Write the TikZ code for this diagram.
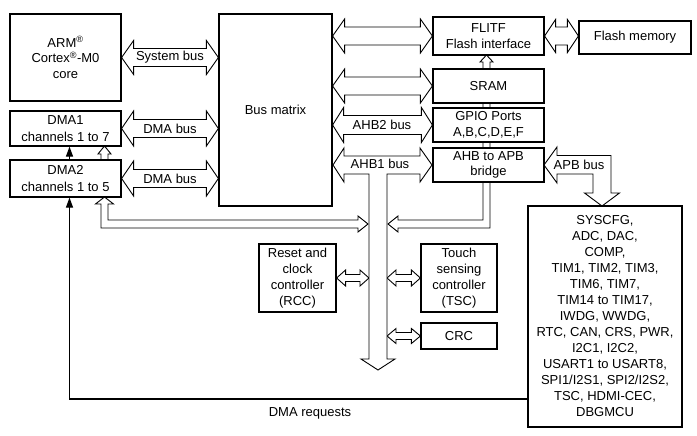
\documentclass[tikz,border=0pt]{standalone}
\usepackage{fontspec}
\setmainfont{Liberation Sans}
\usetikzlibrary{arrows.meta,calc}
\pgfdeclarelayer{bg}
\pgfsetlayers{bg,main}
\newcommand\hbusarrow[5]{\draw[bus] (#1) -- ++(#5,-#4) -- ++(0,#4-#3) -- ($(#2)+(-#5,-#3)$) -- ++(0,#3-#4) -- (#2) -- ++(-#5,#4) -- ++(0,#3-#4) -- ($(#1)+(#5,#3)$) -- ++(0,#4-#3) -- cycle;}
\begin{document}
\begin{tikzpicture}[x=1pt,y=-1pt,
  box/.style={draw,line width=1.2pt,fill=white,align=center,inner sep=0pt,font=\fontsize{13pt}{15.7pt}\selectfont},
  bus/.style={draw,line width=0.9pt,fill=white,line join=miter},
  lbl/.style={inner sep=0pt,font=\fontsize{13pt}{15.7pt}\selectfont},
  req/.style={line width=1.2pt,-{Triangle[length=10pt,width=7pt]}}]
\useasboundingbox (0,0) rectangle (697,436);

% boxes
\node[box,minimum width=111pt,minimum height=87pt] (arm) at (65.5,57.5) {ARM\textsuperscript{®}\\Cortex\textsuperscript{®}-M0\\core};
\node[box,minimum width=111pt,minimum height=35pt,font=\fontsize{13pt}{16.5pt}\selectfont] (dma1) at (65.5,128.5) {DMA1\\channels 1 to 7};
\node[box,minimum width=111pt,minimum height=37pt,font=\fontsize{13pt}{16.5pt}\selectfont] (dma2) at (65.5,178.5) {DMA2\\channels 1 to 5};
\node[box,minimum width=113pt,minimum height=192pt] (bm) at (275.5,110) {Bus matrix};
\node[box,minimum width=111pt,minimum height=38pt] (flitf) at (488.5,36) {FLITF\\Flash interface};
\node[box,minimum width=112pt,minimum height=33pt] (flash) at (635,37.5) {Flash memory};
\node[box,minimum width=111pt,minimum height=34pt] (sram) at (488.5,86) {SRAM};
\node[box,minimum width=111pt,minimum height=34pt] (gpio) at (488.5,125) {GPIO Ports\\A,B,C,D,E,F};
\node[box,minimum width=111pt,minimum height=34pt] (bridge) at (488.5,165) {AHB to APB\\bridge};
\node[box,minimum width=154pt,minimum height=221pt,font=\fontsize{13pt}{16pt}\selectfont] (per) at (605,316.5) {SYSCFG,\\ADC, DAC,\\COMP,\\TIM1, TIM2, TIM3,\\TIM6, TIM7,\\TIM14 to TIM17,\\IWDG, WWDG,\\RTC, CAN, CRS, PWR,\\I2C1, I2C2,\\USART1 to USART8,\\SPI1/I2S1, SPI2/I2S2,\\TSC, HDMI-CEC,\\DBGMCU};
\node[box,minimum width=77pt,minimum height=68pt,font=\fontsize{13pt}{16pt}\selectfont] (rcc) at (297.5,278) {Reset and\\clock\\controller\\(RCC)};
\node[box,minimum width=76pt,minimum height=68pt,font=\fontsize{13pt}{16pt}\selectfont] (tsc) at (459,278) {Touch\\sensing\\controller\\(TSC)};
\node[box,minimum width=76pt,minimum height=26pt] (crc) at (459,336) {CRC};
\node[lbl] (dmareq) at (310,413) {DMA requests};

% helper coordinates
\coordinate (sysR) at (arm.east -| bm.west);
\coordinate (d1R) at (dma1.east -| bm.west);
\coordinate (d2R) at (dma2.east -| bm.west);
\coordinate (flL) at (flitf.west -| bm.east);
\coordinate (srL) at (sram.west -| bm.east);
\coordinate (gpL) at (gpio.west -| bm.east);
\coordinate (fmR) at (flitf.east -| flash.west);
\coordinate (shL) at (369,0);
\coordinate (shR) at (387,0);
\coordinate (rccR) at (rcc.east -| shL);
\coordinate (tscL) at (tsc.west -| shR);
\coordinate (crcL) at (crc.west -| shR);

\begin{pgfonlayer}{bg}
% horizontal double buses
\hbusarrow{arm.east}{sysR}{9}{17}{12}
\hbusarrow{dma1.east}{d1R}{9}{17.5}{12}
\hbusarrow{dma2.east}{d2R}{9}{17.5}{12}
\hbusarrow{flL}{flitf.west}{9}{17}{12}
\hbusarrow{srL}{sram.west}{9}{17}{12}
\hbusarrow{gpL}{gpio.west}{9.5}{17.5}{11}
\hbusarrow{flitf.east}{fmR}{9}{16.5}{11}
\hbusarrow{rcc.east}{rccR}{3.5}{8}{9}
\hbusarrow{tscL}{tsc.west}{3.5}{8}{9}
\hbusarrow{crcL}{crc.west}{3.5}{7.5}{9}
% AHB1 T-shaped bus
\draw[bus] (333,165) -- (344,148) -- (344,156) -- (420,156) -- (420,148) -- (432,165) -- (420,182) -- (420,174) -- (387,174) -- (387,359) -- (395,359) -- (378,370) -- (361,359) -- (369,359) -- (369,174) -- (344,174) -- (344,182) -- cycle;
% bus from AHB1 shaft up to FLITF (behind bridge, GPIO, SRAM)
\draw[bus] (388,224) -- (398,216) -- (398,220) -- (483,220) -- (483,62) -- (480,62) -- (486.5,55) -- (493,62) -- (490,62) -- (490,228) -- (398,228) -- (398,232) -- cycle;
% bus from AHB1 shaft to DMA2
\draw[bus] (104.5,197) -- (113.5,204) -- (108,204) -- (108,220) -- (358,220) -- (358,216) -- (368,224) -- (358,232) -- (358,228) -- (101,228) -- (101,204) -- (95.5,204) -- cycle;
% DMA2 to DMA1
\draw[bus] (104.5,146) -- (111,154) -- (108,154) -- (108,160) -- (101,160) -- (101,154) -- (98,154) -- cycle;
% APB bus
\draw[bus] (544,165) -- (557,147) -- (557,155.5) -- (611,155.5) -- (611,193) -- (619.5,193) -- (602,206) -- (584.5,193) -- (593,193) -- (593,174) -- (557,174) -- (557,183) -- cycle;
\end{pgfonlayer}

% bus labels
\node[lbl] at ($(arm.east)!0.5!(sysR)$) {System bus};
\node[lbl] at ($(dma1.east)!0.5!(d1R)$) {DMA bus};
\node[lbl] at ($(dma2.east)!0.5!(d2R)$) {DMA bus};
\node[lbl] at (382,125) {AHB2 bus};
\node[lbl] at (380,164) {AHB1 bus};
\node[lbl] at (579,165) {APB bus};

% DMA request lines
\coordinate (rqR) at (per.west |- 0,399);
\coordinate (rqL) at (69.5,399);
\draw[req] (rqR) -- (rqL) -- (rqL |- dma2.south);
\coordinate (d2n) at (dma2.north -| 69.5,0);
\draw[req] (d2n) -- (d2n |- dma1.south);
\end{tikzpicture}
\end{document}
